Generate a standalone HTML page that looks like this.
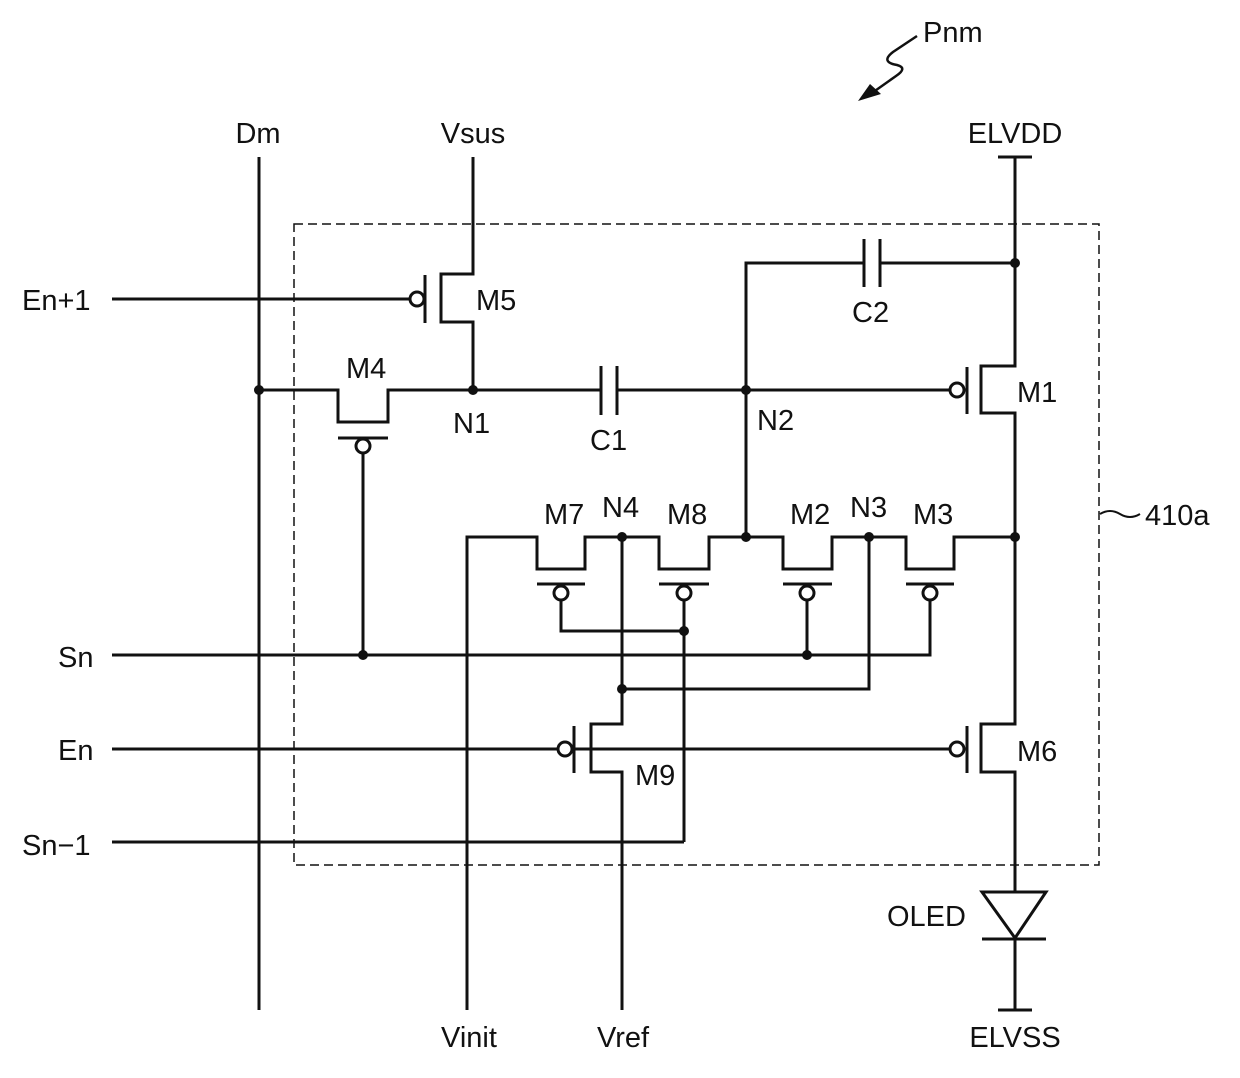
<!DOCTYPE html>
<html><head><meta charset="utf-8"><style>
html,body{margin:0;padding:0;background:#fff}
svg{display:block}
text{font-family:"Liberation Sans",sans-serif;font-size:29px;fill:#111}
</style></head><body>
<svg width="1240" height="1078" viewBox="0 0 1240 1078" xmlns="http://www.w3.org/2000/svg">
<g fill="none" stroke="#111" stroke-width="3">
<rect x="294" y="224" width="805" height="641" stroke-width="1.5" stroke-dasharray="9,5"/>
<line x1="259" y1="157" x2="259" y2="1010"/>
<polyline points="473,157 473,274 441,274 441,322 473,322 473,390"/>
<line x1="425" y1="275" x2="425" y2="323"/>
<line x1="112" y1="299" x2="410" y2="299"/>
<circle cx="417" cy="299" r="7"/>
<polyline points="259,390 338,390 338,422 388,422 388,390 601,390"/>
<line x1="338" y1="438" x2="388" y2="438"/>
<circle cx="363" cy="446" r="7"/>
<line x1="363" y1="453" x2="363" y2="655"/>
<line x1="601" y1="366" x2="601" y2="415"/>
<line x1="617" y1="366" x2="617" y2="415"/>
<line x1="617" y1="390" x2="950" y2="390"/>
<polyline points="746,537 746,263 864,263"/>
<line x1="864" y1="239" x2="864" y2="287"/>
<line x1="880" y1="239" x2="880" y2="287"/>
<line x1="880" y1="263" x2="1015" y2="263"/>
<line x1="998" y1="157" x2="1032" y2="157"/>
<polyline points="1015,157 1015,366 981,366 981,413 1015,413 1015,724 981,724 981,772 1015,772 1015,892"/>
<line x1="967" y1="367" x2="967" y2="414"/>
<circle cx="957" cy="390" r="7"/>
<line x1="967" y1="726" x2="967" y2="773"/>
<circle cx="957" cy="749" r="7"/>
<polygon points="982,892 1046,892 1015,938"/>
<line x1="982" y1="939" x2="1046" y2="939"/>
<line x1="1015" y1="939" x2="1015" y2="1010"/>
<line x1="998" y1="1010" x2="1032" y2="1010"/>
<polyline points="467,1010 467,537 537,537 537,569 585,569 585,537 659,537 659,569 709,569 709,537 783,537 783,569 832,569 832,537 906,537 906,569 954,569 954,537 1015,537"/>
<line x1="537" y1="584" x2="585" y2="584"/>
<line x1="659" y1="584" x2="709" y2="584"/>
<line x1="783" y1="584" x2="832" y2="584"/>
<line x1="906" y1="584" x2="954" y2="584"/>
<circle cx="561" cy="593" r="7"/>
<circle cx="684" cy="593" r="7"/>
<circle cx="807" cy="593" r="7"/>
<circle cx="930" cy="593" r="7"/>
<polyline points="561,600 561,631 684,631"/>
<line x1="684" y1="600" x2="684" y2="842"/>
<line x1="807" y1="600" x2="807" y2="655"/>
<polyline points="930,600 930,655 112,655"/>
<polyline points="869,537 869,689 622,689"/>
<polyline points="622,537 622,724 591,724 591,772 622,772 622,1010"/>
<line x1="574" y1="726" x2="574" y2="773"/>
<circle cx="565" cy="749" r="7"/>
<line x1="112" y1="749" x2="558" y2="749"/>
<line x1="574" y1="749" x2="950" y2="749"/>
<line x1="112" y1="842" x2="684" y2="842"/>
<path d="M917,36 L893,52 Q880,62 897,65 Q908,68 896,76 L872,93" stroke-width="2.5"/>
<path d="M1100,514 Q1110,508 1120,514 Q1130,520 1140,514" stroke-width="2"/>
</g>
<polygon points="858,101 870,84 881,94" fill="#111"/>
<g fill="#111">
<circle cx="259" cy="390" r="5"/>
<circle cx="473" cy="390" r="5"/>
<circle cx="746" cy="390" r="5"/>
<circle cx="1015" cy="263" r="5"/>
<circle cx="622" cy="537" r="5"/>
<circle cx="746" cy="537" r="5"/>
<circle cx="869" cy="537" r="5"/>
<circle cx="1015" cy="537" r="5"/>
<circle cx="684" cy="631" r="5"/>
<circle cx="363" cy="655" r="5"/>
<circle cx="807" cy="655" r="5"/>
<circle cx="622" cy="689" r="5"/>
</g>
<text x="923" y="42">Pnm</text>
<text x="258" y="143" text-anchor="middle">Dm</text>
<text x="473" y="143" text-anchor="middle">Vsus</text>
<text x="1015" y="143" text-anchor="middle">ELVDD</text>
<text x="22" y="310">En+1</text>
<text x="476" y="310">M5</text>
<text x="346" y="378">M4</text>
<text x="453" y="433">N1</text>
<text x="590" y="450">C1</text>
<text x="757" y="430">N2</text>
<text x="852" y="322">C2</text>
<text x="1017" y="402">M1</text>
<text x="544" y="524">M7</text>
<text x="602" y="517">N4</text>
<text x="667" y="524">M8</text>
<text x="790" y="524">M2</text>
<text x="850" y="517">N3</text>
<text x="913" y="524">M3</text>
<text x="1145" y="525">410a</text>
<text x="58" y="667">Sn</text>
<text x="58" y="760">En</text>
<text x="22" y="855">Sn−1</text>
<text x="635" y="785">M9</text>
<text x="1017" y="761">M6</text>
<text x="887" y="926">OLED</text>
<text x="469" y="1047" text-anchor="middle">Vinit</text>
<text x="623" y="1047" text-anchor="middle">Vref</text>
<text x="1015" y="1047" text-anchor="middle">ELVSS</text>
</svg>
</body></html>
